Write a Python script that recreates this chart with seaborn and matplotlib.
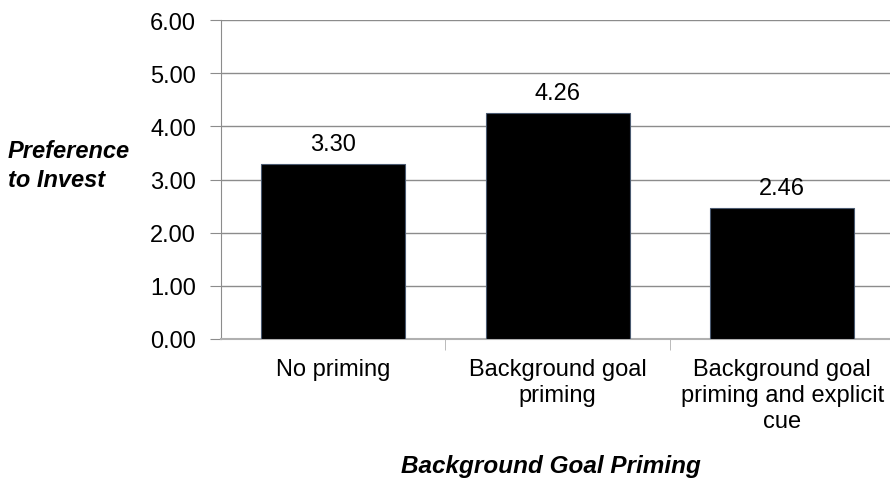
import matplotlib
matplotlib.use("Agg")
import matplotlib.pyplot as plt
import seaborn as sns
import pandas as pd

# данные
categories = ["No priming", "Background goal\npriming", "Background goal\npriming and explicit\ncue"]
values = [3.30, 4.26, 2.46]
value_labels = ["3.30", "4.26", "2.46"]
y_ticks = [0, 1, 2, 3, 4, 5, 6]

sns.set_style("white")
plt.rcParams["font.family"] = ["Liberation Sans", "DejaVu Sans"]
plt.rcParams["text.color"] = "black"
plt.rcParams["axes.labelcolor"] = "black"
plt.rcParams["xtick.color"] = "black"
plt.rcParams["ytick.color"] = "black"
FS = 17

df = pd.DataFrame({"group": categories, "pref": values})

fig = plt.figure(figsize=(8.9, 4.85), dpi=100)
ax = fig.add_axes([221 / 890, 1 - 340 / 485, 669 / 890, 319 / 485])

sns.barplot(data=df, x="group", y="pref", color="black", width=0.64,
            edgecolor="#4a5a70", linewidth=0.8, saturation=1, ax=ax, zorder=3)

ax.set_ylim(0, 6)
ax.set_xlim(-0.5, 2.48)
ax.set_yticks(y_ticks)
ax.set_yticklabels([f"{t:.2f}" for t in y_ticks], fontsize=FS)
ax.yaxis.grid(True, color="#8c8c8c", linewidth=1, zorder=0)
ax.set_axisbelow(True)

# подписи значений над столбцами
for i, (v, lab) in enumerate(zip(values, value_labels)):
    ax.text(i, v + 0.165, lab, ha="center", va="bottom", fontsize=FS)

# оси
for s in ["top", "right"]:
    ax.spines[s].set_visible(False)
ax.spines["left"].set_color("#8c8c8c")
ax.spines["bottom"].set_color("#b0b0b0")
ax.spines["bottom"].set_linewidth(1.5)
ax.tick_params(axis="y", left=True, length=8, color="#8c8c8c", labelcolor="black", pad=10)
ax.set_xticks([0, 1, 2])
ax.set_xticklabels(categories, fontsize=FS, linespacing=1.23, va="top")
ax.tick_params(axis="x", bottom=False, pad=10, labelcolor="black")
# тики между категориями
ax.set_xticks([0.5, 1.5], minor=True)
ax.tick_params(axis="x", which="minor", bottom=True, length=8, color="#b0b0b0")

ax.set_xlabel("Background Goal Priming", fontsize=17.5, fontweight="bold",
              style="italic", color="black")
ax.xaxis.set_label_coords((551 - 221) / 669, (340 - 467) / 319)
ax.xaxis.label.set_va("center")
ax.set_ylabel("")

fig.text(8 / 890, 1 - 166 / 485, "Preference\nto Invest", ha="left", va="center",
         fontsize=FS, fontweight="bold", style="italic", linespacing=1.3)

fig.savefig("out.png", dpi=100, facecolor="white")
